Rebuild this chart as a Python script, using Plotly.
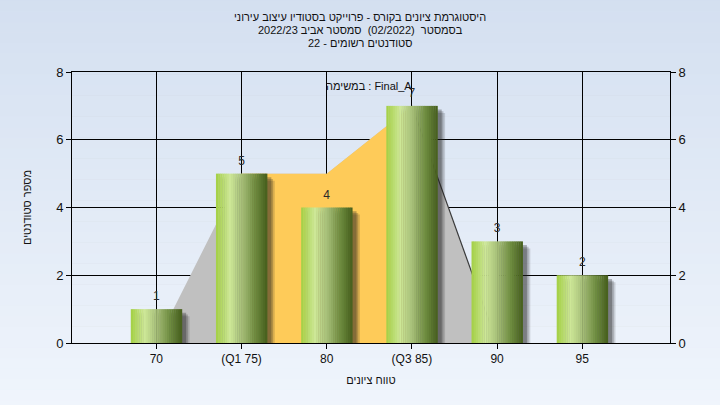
import plotly.graph_objects as go

# ---------------- data ----------------
categories = ["70", "(Q1 75)", "80", "(Q3 85)", "90", "95"]
counts = [1, 5, 4, 7, 3, 2]

# background distribution polygon (gray) and inter-quartile part (yellow)
dist_x = ["70", "(Q1 75)", "80", "(Q3 85)", "90"]
dist_y = [0, 5, 5, 7, 0]
iqr_x = ["(Q1 75)", "(Q1 75)", "80", "(Q3 85)", "(Q3 85)"]
iqr_y = [0, 5, 5, 7, 0]
edge_x = ["(Q3 85)", "90"]
edge_y = [7, 0]

title_lines = [
    "היסטוגרמת ציונים בקורס - פרוייקט בסטודיו עיצוב עירוני",
    "בסמסטר  (02/2022)  סמסטר אביב 2022/23",
    "סטודנטים רשומים - 22",
]
x_title = "טווח ציונים"
y_title = "מספר סטודנטים"
note_text = "במשימה : Final_A"

FONT = "Liberation Sans, Arial, sans-serif"


def hexc(c):
    return tuple(int(c[i:i + 2], 16) for i in (1, 3, 5))


def lerp_stops(stops, t):
    for (p0, c0), (p1, c1) in zip(stops, stops[1:]):
        if p0 <= t <= p1:
            f = (t - p0) / (p1 - p0) if p1 > p0 else 0
            a, b = hexc(c0), hexc(c1)
            return "rgb(%d,%d,%d)" % tuple(round(a[k] + (b[k] - a[k]) * f) for k in range(3))
    return stops[-1][1]


fig = go.Figure()

# distribution polygon (base subplot, under the bars)
fig.add_trace(go.Scatter(x=dist_x, y=dist_y, fill="toself", mode="none",
                         fillcolor="#c0c0c0", hoverinfo="skip"))
fig.add_trace(go.Scatter(x=iqr_x, y=iqr_y, fill="toself", mode="none",
                         fillcolor="#fecb59", hoverinfo="skip"))
fig.add_trace(go.Scatter(x=edge_x, y=edge_y, mode="lines",
                         line=dict(color="#3a3a3a", width=1.2), hoverinfo="skip"))

# bar shadows
W = 0.6
for dx, db, a in [(0.09, -0.21, 0.16), (0.07, -0.16, 0.22), (0.05, -0.11, 0.3)]:
    fig.add_trace(go.Bar(x=categories, y=counts, base=db, width=W, offset=-W / 2 + dx,
                         yaxis="y2",
                         marker=dict(color="rgba(30,30,30,%.2f)" % a, line=dict(width=0)),
                         hoverinfo="skip"))

# gradient bars built from vertical strips
stops = [(0.0, "#a3cf44"), (0.27, "#cde797"), (0.5, "#a7bf79"),
         (0.76, "#6f8d41"), (1.0, "#455e1c")]
N = 24
sw = W / N
for i in range(N):
    t = (i + 0.5) / N
    fig.add_trace(go.Bar(x=categories, y=counts, width=sw * 1.15, offset=-W / 2 + i * sw,
                         yaxis="y2",
                         marker=dict(color=lerp_stops(stops, t), line=dict(width=0)),
                         hoverinfo="skip"))

# value labels
fig.add_trace(go.Scatter(x=categories, y=counts, mode="markers+text", text=[str(v) for v in counts],
                         textposition="top center", yaxis="y2",
                         marker=dict(size=8, color="rgba(0,0,0,0)"),
                         textfont=dict(family=FONT, size=12, color="#2a2a2a"),
                         hoverinfo="skip", cliponaxis=False))

# gradient page background
shapes = []
nb = 40
top_c, bot_c = "#d3dff0", "#f0f5fc"
for i in range(nb):
    y0 = i / nb
    y1 = (i + 1) / nb
    col = lerp_stops([(0, bot_c), (1, top_c)], (i + 0.5) / nb)
    shapes.append(dict(type="rect", xref="paper", yref="paper", x0=-0.2, x1=1.2,
                       y0=-0.25 + y0 * 1.55, y1=-0.25 + y1 * 1.55 + 0.002,
                       fillcolor=col, line=dict(width=0), layer="below"))


def py(px):
    return 1 - (px - 72) / 271.0


def pxr(px):
    return (px - 72) / 598.0


annotations = []
for k, line in enumerate(title_lines):
    annotations.append(dict(text=line, xref="paper", yref="paper",
                            x=pxr(360), y=py(17 + 13 * k), xanchor="center", yanchor="middle",
                            showarrow=False, font=dict(family=FONT, size=11, color="#111111")))
annotations.append(dict(text=note_text, xref="paper", yref="paper",
                        x=pxr(369), y=py(86), xanchor="center", yanchor="middle",
                        showarrow=False, font=dict(family=FONT, size=11, color="#111111")))

axis_font = dict(family=FONT, size=12, color="#111111")
fig.update_layout(
    width=720, height=405,
    margin=dict(l=72, r=50, t=72, b=62),
    paper_bgcolor="#e3ebf6", plot_bgcolor="#b3b3b3",
    barmode="overlay", showlegend=False,
    shapes=shapes, annotations=annotations,
    xaxis=dict(type="category", categoryorder="array", categoryarray=categories,
               range=[-0.99, 6.03], showgrid=True, gridcolor="black", gridwidth=1,
               showline=True, linecolor="black", linewidth=1, mirror=True,
               ticks="outside", ticklen=5, tickcolor="black", tickfont=axis_font,
               title=dict(text=x_title, font=dict(family=FONT, size=11, color="#111111"),
                          standoff=10),
               fixedrange=True),
    yaxis=dict(range=[0, 8], dtick=2, showgrid=True, gridcolor="black", gridwidth=1,
               zeroline=False, showline=True, linecolor="black", linewidth=1,
               ticks="outside", ticklen=5, tickcolor="black", tickfont=dict(family=FONT, size=13, color="#111111"),
               title=dict(text=y_title, font=dict(family=FONT, size=11, color="#111111"), standoff=22)),
    yaxis2=dict(range=[0, 8], dtick=2, overlaying="y", side="right", showgrid=False,
                zeroline=False, showline=True, linecolor="black", linewidth=1,
                ticks="outside", ticklen=5, tickcolor="black", tickfont=dict(family=FONT, size=13, color="#111111")),
)

fig.write_html("out.html", config={"displayModeBar": False},
               post_script="document.body.style.margin='0';document.body.style.overflow='hidden';")
